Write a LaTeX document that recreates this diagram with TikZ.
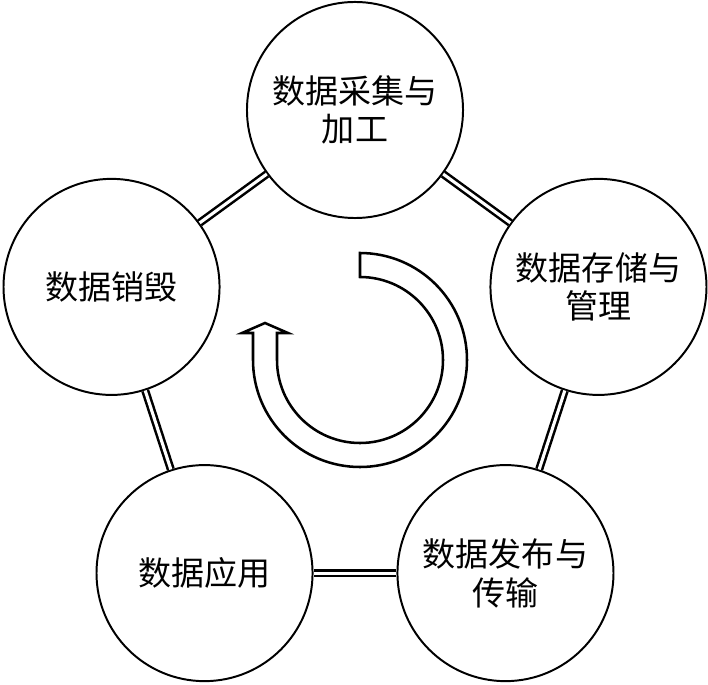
\documentclass[tikz,border=0pt]{standalone}
\usepackage{fontspec}
\newfontfamily\cjk{Noto Sans CJK SC}
\usepackage{tikz}
\usetikzlibrary{calc}

\begin{document}
\begin{tikzpicture}[x=0.025cm,y=0.025cm,
    stage/.style={circle,draw,line width=1.4pt,minimum size=5.4cm,inner sep=0pt,
      align=center,font=\cjk\fontsize{23.5pt}{27.5pt}\selectfont},
    link/.style={double,line width=1.8pt,double distance=2.2pt}]
  \useasboundingbox (-355,-318) rectangle (353,366);
  % five stages on a pentagon
  \node[stage] (collect) at (90:256) {数据采集与\\加工};
  \node[stage] (store) at (18:256) {数据存储与\\管理};
  \node[stage] (publish) at (-54:256) {数据发布与\\传输};
  \node[stage] (apply) at (-126:256) {数据应用};
  \node[stage] (destroy) at (162:256) {数据销毁};
  % double links round the ring
  \draw[link] (collect) -- (store);
  \draw[link] (store) -- (publish);
  \draw[link] (publish) -- (apply);
  \draw[link] (apply) -- (destroy);
  \draw[link] (destroy) -- (collect);
  % hollow turning arrow in the middle
  \coordinate (hub) at (5,6);
  \draw[line width=1.8pt,fill=white]
    ($(hub)+(90:107)$) arc[start angle=90,end angle=-180,radius=107]
    -- (-102,33) -- (-113,33) -- (-90,43) -- (-67,33) -- (-78,33) -- (-78,6)
    arc[start angle=-180,end angle=90,radius=83] -- cycle;
\end{tikzpicture}
\end{document}
